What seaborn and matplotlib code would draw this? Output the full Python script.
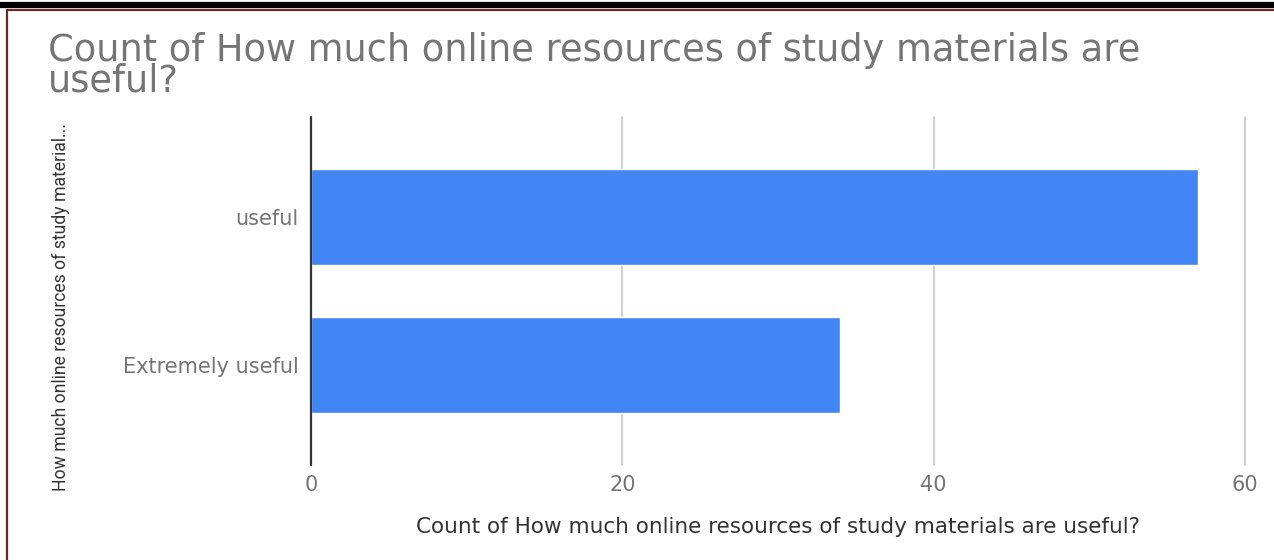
import matplotlib
matplotlib.use("Agg")
import matplotlib.pyplot as plt
from matplotlib.lines import Line2D
import seaborn as sns
import pandas as pd

categories = ["useful", "Extremely useful"]
counts = [57, 34]
x_ticks = [0, 20, 40, 60]

title = "Count of How much online resources of study materials are\nuseful?"
x_title = "Count of How much online resources of study materials are useful?"
y_title = "How much online resources of study material..."

sns.set_theme(style="white")
plt.rcParams["font.family"] = ["DejaVu Sans"]

df = pd.DataFrame({"category": categories, "count": counts})

fig = plt.figure(figsize=(12.74, 5.6), dpi=100)
ax = fig.add_axes([311 / 1274, 1 - 465 / 560, (1245 - 311) / 1274, (465 - 117) / 560])

sns.barplot(data=df, x="count", y="category", orient="h", color="#4285F4",
            saturation=1, width=0.65, ax=ax, zorder=3)

ax.set_xlim(0, 60)
ax.set_ylim(1.676, -0.676)
ax.set_xticks(x_ticks)
ax.set_xticklabels([str(t) for t in x_ticks])
for t in x_ticks[1:]:
    ax.axvline(t, color="#cccccc", lw=1.3, zorder=1, clip_on=False)
ax.axvline(0, color="#333333", lw=1.6, zorder=4, clip_on=False)

for s in ax.spines.values():
    s.set_visible(False)
ax.tick_params(axis="both", length=0, colors="#757575", labelsize=15)
ax.tick_params(axis="x", pad=7)
ax.tick_params(axis="y", pad=9)
ax.set_xlabel("")
ax.set_ylabel("")

fig.text(48 / 1274, 1 - 66 / 560, title, fontsize=26.5, color="#757575",
         ha="left", va="center", linespacing=0.78)
fig.text(778 / 1274, 1 - 527 / 560, x_title, fontsize=15.5, color="#333333",
         ha="center", va="center")
fig.text(61 / 1274, 1 - 307 / 560, y_title, fontsize=12.7, color="#333333",
         ha="center", va="center", rotation=90, family="Roboto")

# page frame: thick dark rule along the top, thin maroon rules inside it
fig.add_artist(Line2D([0, 1], [1 - 5 / 560, 1 - 5 / 560], color="black", lw=4.5,
                      transform=fig.transFigure))
fig.add_artist(Line2D([7 / 1274, 1], [1 - 10 / 560, 1 - 10 / 560], color="#6b2a2a",
                      lw=1.6, transform=fig.transFigure))
fig.add_artist(Line2D([7 / 1274, 7 / 1274], [0, 1 - 10 / 560], color="#6b2a2a",
                      lw=1.6, transform=fig.transFigure))

fig.savefig("out.png", dpi=100)
